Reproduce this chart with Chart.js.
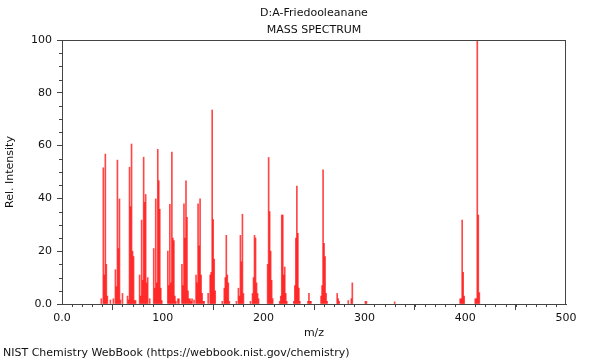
<!DOCTYPE html>
<html>
<head>
<meta charset="utf-8">
<script src="https://cdn.jsdelivr.net/npm/chart.js@4.4.1/dist/chart.umd.min.js"></script>
<style>
html,body{margin:0;padding:0;background:#fff;}
#wrap{width:600px;height:360px;}
</style>
</head>
<body>
<div id="wrap"><canvas id="ms"></canvas></div>
<script>
// m/z values and relative intensities
const masses = [39,41,42,43,44,45,48,51,53,54,55,56,57,58,60,65,66,67,68,69,70,71,72,73,
  77,78,79,80,81,82,83,84,85,87,91,92,93,94,95,96,97,98,99,
  105,106,107,108,109,110,111,112,113,115,116,119,120,121,122,123,124,125,126,127,128,129,131,
  133,134,135,136,137,138,139,140,141,145,147,148,149,150,151,152,159,
  161,162,163,164,165,166,173,175,176,177,178,179,180,187,189,190,191,192,193,194,195,
  204,205,206,207,208,209,216,217,218,219,220,221,222,223,230,231,232,233,234,235,236,
  244,245,246,247,257,258,259,260,261,262,263,273,274,275,284,287,288,301,302,330,
  395,396,397,398,399,410,411,412,413,414];
const intens = [2,51.6,11,56.8,15,3,1.5,2,13,6.6,54.5,21,39.8,1.5,4,3,1.5,51.8,36.9,60.6,20,18,1.3,1.3,
  11,3,31.8,9,55.6,38.5,41.5,8,10,2,21,6,39.8,8,58.6,46.7,35.9,6,1.3,
  20,7,37.8,8,57.5,25,24,3,1,2,2,15,7,37.9,25,46.7,32.8,5,2,2,1,2,1.5,
  11,8,37.9,22,39.8,11,4,1,1,4,11,12,73.5,32,17,5,1,
  6,10,26,11,8,1,1,6,3,26,16,34,4,1,4,10,26,25,8,4,2,
  15,55.5,35,20,9,2,1,3,33.7,33.7,11,14,4,1,1,7,25,44.7,26.8,6,1,
  1,4,1,1,3,7,50.8,23,18,4,1,4,2,1,1.3,2,8,1,1,0.8,
  2,2,31.8,12,3,2,2,100,33.7,4.3];
const xTicks = [0,100,200,300,400,500];
const yTicks = [0,20,40,60,80,100];

Chart.defaults.font.family = 'DejaVu Sans';
Chart.defaults.font.size = 11;
Chart.defaults.color = '#111';

const axisColor = '#444';
const fmt = v => v === 0 ? '0.0' : String(v);

// frame, minor ticks and source line
const extras = {
  id: 'extras',
  afterDraw(chart) {
    const {ctx, chartArea: a, scales: {x, y}} = chart;
    ctx.save();
    ctx.strokeStyle = axisColor;
    ctx.lineWidth = 1;
    ctx.beginPath();
    ctx.moveTo(a.left, a.top + 0.5); ctx.lineTo(a.right, a.top + 0.5);
    ctx.moveTo(a.right - 0.5, a.top); ctx.lineTo(a.right - 0.5, a.bottom);
    for (let v = 10; v < 500; v += 10) {
      if (v % 100 === 0) continue;
      const px = Math.round(x.getPixelForValue(v)) + 0.5;
      ctx.moveTo(px, a.bottom); ctx.lineTo(px, a.bottom + 3);
    }
    for (let v = 5; v < 100; v += 5) {
      if (v % 20 === 0) continue;
      const py = Math.round(y.getPixelForValue(v)) + 0.5;
      ctx.moveTo(a.left, py); ctx.lineTo(a.left - 3, py);
    }
    ctx.stroke();
    ctx.fillStyle = '#111';
    ctx.font = '11px "DejaVu Sans"';
    ctx.textBaseline = 'middle';
    ctx.fillText('NIST Chemistry WebBook (https://webbook.nist.gov/chemistry)', 3, 353);
    ctx.restore();
  }
};

new Chart(document.getElementById('ms'), {
  type: 'bar',
  data: {
    datasets: [{
      data: masses.map((m, i) => ({x: m, y: intens[i]})),
      backgroundColor: 'rgba(255,0,0,0.72)',
      borderWidth: 0,
      barThickness: 1
    }]
  },
  options: {
    responsive: true,
    maintainAspectRatio: false,
    animation: false,
    layout: {padding: {left: 0, right: 34, top: 0, bottom: 20}},
    plugins: {
      legend: {display: false},
      tooltip: {enabled: false},
      title: {
        display: true,
        fullSize: false,
        text: ['D:A-Friedooleanane', 'MASS SPECTRUM'],
        color: '#111',
        font: {size: 11, weight: 'normal', lineHeight: 1.5},
        padding: {top: 5, bottom: 2}
      }
    },
    scales: {
      x: {
        type: 'linear', min: 0, max: 500, offset: false,
        afterFit: s => { s.height = 36; },
        afterBuildTicks: s => { s.ticks = xTicks.map(v => ({value: v})); },
        ticks: {padding: 2, maxRotation: 0, callback: fmt},
        grid: {drawOnChartArea: false, drawTicks: true, tickLength: 6, color: axisColor},
        border: {color: axisColor},
        title: {display: true, text: 'm/z', padding: {top: 0, bottom: 0}}
      },
      y: {
        min: 0, max: 100,
        afterFit: s => { s.width = 62; },
        afterBuildTicks: s => { s.ticks = yTicks.map(v => ({value: v})); },
        ticks: {padding: 5, callback: fmt},
        grid: {drawOnChartArea: false, drawTicks: true, tickLength: 5, color: axisColor},
        border: {color: axisColor},
        title: {display: true, text: 'Rel. Intensity', padding: {top: 4, bottom: 4}}
      }
    }
  },
  plugins: [extras]
});
</script>
</body>
</html>
